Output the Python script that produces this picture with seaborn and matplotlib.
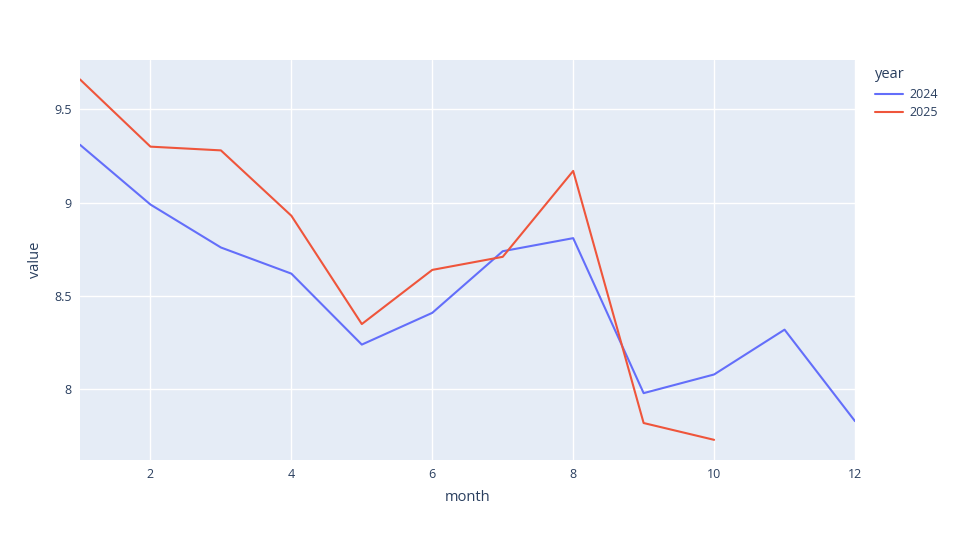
import numpy as np
import pandas as pd
import matplotlib
matplotlib.use("Agg")
import matplotlib.pyplot as plt
import seaborn as sns
from matplotlib.ticker import FuncFormatter

# Data
months_2024 = [1, 2, 3, 4, 5, 6, 7, 8, 9, 10, 11, 12]
values_2024 = [9.31, 8.99, 8.76, 8.62, 8.24, 8.41, 8.74, 8.81, 7.98, 8.08, 8.32, 7.83]
months_2025 = [1, 2, 3, 4, 5, 6, 7, 8, 9, 10]
values_2025 = [9.66, 9.30, 9.28, 8.93, 8.35, 8.64, 8.71, 9.17, 7.82, 7.73]
years = ["2024", "2025"]
colors = ["#636efa", "#EF553B"]

df = pd.concat([
    pd.DataFrame({"month": months_2024, "value": values_2024, "year": years[0]}),
    pd.DataFrame({"month": months_2025, "value": values_2025, "year": years[1]}),
])

sns.set_style("white")
plt.rcParams["font.family"] = ["Open Sans", "DejaVu Sans"]
text_color = "#2a3f5f"

fig = plt.figure(figsize=(9.59, 5.4), dpi=100)
ax = fig.add_axes([80 / 959, 1 - 460 / 540, 775 / 959, 400 / 540])
ax.set_facecolor("#E5ECF6")

sns.lineplot(data=df, x="month", y="value", hue="year", palette=dict(zip(years, colors)),
             linewidth=1.5, ax=ax, legend=False)

ax.set_xlim(1, 12)
ax.set_ylim(7.622, 9.764)
ax.set_xticks([2, 4, 6, 8, 10, 12])
ax.set_yticks([8, 8.5, 9, 9.5])
ax.yaxis.set_major_formatter(FuncFormatter(lambda v, p: f"{v:g}"))
ax.grid(True, color="white", linewidth=1)
ax.set_axisbelow(True)
for s in ax.spines.values():
    s.set_visible(False)
ax.tick_params(axis="both", length=0, labelsize=9, colors=text_color, pad=6)
ax.set_xlabel("month", fontsize=10.5, color=text_color, labelpad=6)
ax.set_ylabel("value", fontsize=10.5, color=text_color, labelpad=8)

# legend
handles = [plt.Line2D([], [], color=c, linewidth=1.5) for c in colors]
leg = fig.legend(handles, years, title="year", loc="upper left",
                 bbox_to_anchor=(864 / 959, 1 - 56 / 540), frameon=False,
                 fontsize=9, title_fontsize=10.5, handlelength=2.2,
                 labelspacing=0.45, handletextpad=0.5, alignment="left")
for t in leg.get_texts():
    t.set_color(text_color)
leg.get_title().set_color(text_color)

fig.savefig("out.png", dpi=100)
